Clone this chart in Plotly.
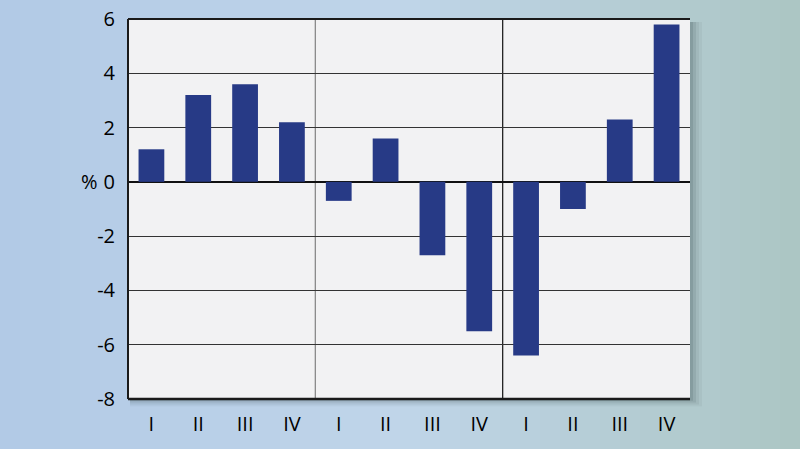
import plotly.graph_objects as go

# quarterly change, %
quarters = ['I', 'II', 'III', 'IV'] * 3
years = ['2007', '2008', '2009']
values = [1.2, 3.2, 3.6, 2.2, -0.7, 1.6, -2.7, -5.5, -6.4, -1.0, 2.3, 5.8]
y_ticks = [-8, -6, -4, -2, 0, 2, 4, 6]
y_labels = ['-8', '-6', '-4', '-2', '0', '2', '4', '6']

W, H = 800, 449
L, R, T, B = 128, 110, 19, 50
pw, ph = W - L - R, H - T - B


def px_x(p):
    return (p - L) / pw


def px_y(p):
    return 1 - (p - T) / ph


def mix(c1, c2, t):
    return 'rgb(%d,%d,%d)' % tuple(round(a + (b - a) * t) for a, b in zip(c1, c2))


fig = go.Figure()
fig.add_trace(go.Bar(x=list(range(len(values))), y=values,
                     marker=dict(color='#273a86', line=dict(width=0)),
                     hoverinfo='y'))

shapes = []
# background: photo-like gradient, blue on the left, teal-grey on the right
left_c, mid_c, right_c = (178, 202, 230), (192, 213, 233), (172, 198, 196)
n = 40
for i in range(n):
    t = i / (n - 1)
    c = mix(left_c, mid_c, t * 2) if t < 0.5 else mix(mid_c, right_c, (t - 0.5) * 2)
    shapes.append(dict(type='rect', xref='paper', yref='paper', layer='below',
                       x0=px_x(i * W / n), x1=px_x((i + 1) * W / n + 1),
                       y0=px_y(H), y1=px_y(0), fillcolor=c, line=dict(width=0)))
# soft drop shadow
for k, op in [(12, 0.05), (9, 0.07), (6, 0.1), (3, 0.13)]:
    shapes.append(dict(type='rect', xref='paper', yref='paper', layer='below',
                       x0=px_x(L + 2), x1=px_x(L + pw + k),
                       y0=px_y(T + ph + k * 0.6), y1=px_y(T + 3),
                       fillcolor='rgba(40,60,60,%s)' % op, line=dict(width=0)))
# plot area fill (paper shapes sit above plot_bgcolor)
shapes.append(dict(type='rect', xref='paper', yref='paper', layer='below',
                   x0=0, x1=1, y0=0, y1=1, fillcolor='#f2f2f3', line=dict(width=0)))

# year dividers
for xv, col in [(3.5, '#8a8a8a'), (7.5, '#222222')]:
    shapes.append(dict(type='line', xref='x', yref='paper', x0=xv, x1=xv, y0=0, y1=1,
                       line=dict(color=col, width=1.3), layer='below'))
# frame: top, left, bottom
shapes.append(dict(type='line', xref='paper', yref='paper', x0=0, x1=1, y0=1, y1=1,
                   line=dict(color='#1a1a1a', width=2)))
shapes.append(dict(type='line', xref='paper', yref='paper', x0=0, x1=0, y0=0, y1=1,
                   line=dict(color='#1a1a1a', width=2)))
shapes.append(dict(type='line', xref='paper', yref='paper', x0=0, x1=1, y0=0, y1=0,
                   line=dict(color='#1a1a1a', width=2.5)))

annotations = [dict(text='%', xref='paper', yref='y', x=px_x(79), y=0,
                    showarrow=False, font=dict(size=20, color='#000'))]
for i, yr in enumerate(years):
    annotations.append(dict(text=yr, xref='x', yref='paper', x=i * 4 + 1.5, y=0,
                            yanchor='top', yshift=-43, showarrow=False,
                            font=dict(size=20, color='#000')))

fig.update_layout(
    width=W, height=H,
    margin=dict(l=L, r=R, t=T, b=B),
    paper_bgcolor='#b8cfe3',
    plot_bgcolor='#f2f2f3',
    bargap=0.45,
    showlegend=False,
    font=dict(family='Open Sans', size=20, color='#000'),
    shapes=shapes,
    annotations=annotations,
    xaxis=dict(range=[-0.5, 11.5], tickvals=list(range(12)), ticktext=quarters,
               showgrid=False, zeroline=False, showline=False, ticks='',
               ticklabelstandoff=11, fixedrange=True, automargin=False),
    yaxis=dict(range=[-8, 6], tickvals=y_ticks, ticktext=y_labels,
               showgrid=True, gridcolor='#333333', gridwidth=1,
               zeroline=True, zerolinecolor='#111111', zerolinewidth=2.2,
               showline=False, ticks='', ticklabelstandoff=12, fixedrange=True,
               automargin=False),
)

fig.write_html('out.html', config={'displayModeBar': False},
               post_script="document.body.style.margin='0';")
